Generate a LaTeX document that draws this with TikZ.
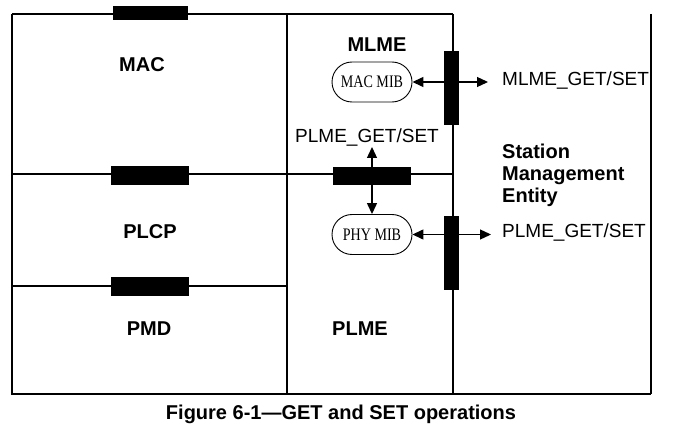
\documentclass[tikz,border=0pt]{standalone}
\usepackage{fontspec}
\setmainfont{Liberation Serif}
\setsansfont{Liberation Sans}
\usetikzlibrary{arrows.meta}
\begin{document}
\begin{tikzpicture}[x=1pt,y=-1pt,
  frame/.style={line width=1.3pt, black},
  hbar/.style={fill=black, draw=none, inner sep=0pt, minimum width=78pt, minimum height=18pt},
  vbar/.style={fill=black, draw=none, inner sep=0pt, minimum width=15pt, minimum height=74pt},
  mib/.style={draw, line width=0.9pt, rounded corners=20pt, minimum width=80pt, minimum height=40pt, inner sep=0pt, font=\fontsize{16}{18}\selectfont\rmfamily},
  lbl/.style={font=\fontsize{20}{22}\selectfont\sffamily\bfseries, inner sep=0pt},
  prim/.style={font=\fontsize{19}{21}\selectfont\sffamily, inner sep=0pt},
  conn/.style={line width=1.3pt, {Triangle[length=11pt,width=10pt]}-{Triangle[length=11pt,width=10pt]}},
  conr/.style={line width=1.3pt, -{Triangle[length=11pt,width=10pt]}}
]
\useasboundingbox (0,0) rectangle (683,441);
% frame lines
\draw[frame] (12,14) -- (453,14);
\draw[frame] (12,14) -- (12,394) -- (651,394);
\draw[frame] (287,14) -- (287,394);
\draw[frame] (453,14) -- (453,394);
\draw[frame] (651,14) -- (651,394);
\draw[frame] (12,174) -- (453,174);
\draw[frame] (12,286) -- (287,286);
% bars
\node[hbar, minimum height=14pt, minimum width=75pt] (barMAC) at (150.5,13) {};
\node[hbar, minimum height=19pt] (barPLCP) at (150,175.5) {};
\node[hbar, minimum height=19pt] (barPMD) at (150,286.5) {};
\node[hbar] (barPLME) at (372,176) {};
\node[vbar] (vbarMLME) at (451.5,88) {};
\node[vbar] (vbarPLME) at (451.5,253) {};
% MIBs
\node[mib] (macmib) at (372,82) {\scalebox{0.88}[1.1]{MAC MIB}};
\node[mib] (phymib) at (372,234.5) {\scalebox{0.88}[1.1]{PHY MIB}};
% labels
\node[lbl] (mac) at (142,65) {MAC};
\node[lbl] (plcp) at (150,232) {PLCP};
\node[lbl] (pmd) at (149,329) {PMD};
\node[lbl] (mlme) at (377,45) {MLME};
\node[lbl] (plme) at (360,329) {PLME};
\node[lbl, anchor=west, align=left] (sme) at (502,175) {Station\\Management\\Entity};
\node[prim, anchor=west] (mlmegs) at (502,81) {MLME\_GET/SET};
\node[prim, anchor=west] (plmegs) at (502,233) {PLME\_GET/SET};
\node[prim] (plmegsup) at (367,138) {PLME\_GET/SET};
\node[font=\fontsize{20}{22}\selectfont\sffamily\bfseries, inner sep=0pt] (caption) at (341,414) {Figure 6-1---GET and SET operations};
% connectors
\coordinate (mlmeEnd) at (488,82);
\coordinate (plmeEnd) at (491,234.5);
\coordinate (upEnd) at (372,147);
\draw[conn] (macmib.east) -- (mlmeEnd);
\draw[conn] (phymib.east) -- (plmeEnd);
\draw[conr] (barPLME.north) -- (upEnd);
\draw[conr] (barPLME.south) -- (phymib.north);
\end{tikzpicture}
\end{document}
